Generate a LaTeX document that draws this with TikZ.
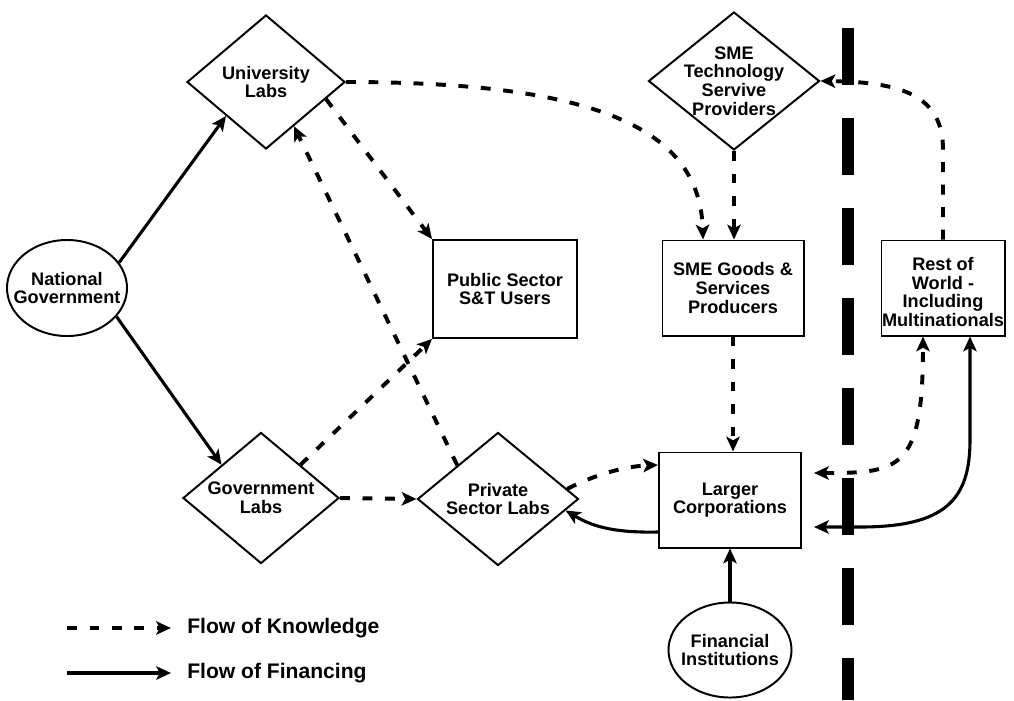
\documentclass[tikz,border=0pt]{standalone}
\usepackage{fontspec}
\setmainfont{Liberation Sans}
\usetikzlibrary{shapes.geometric,arrows.meta,calc}
\tikzset{
  base/.style={draw=black, line width=1.4pt, fill=white, inner sep=0pt},
  dia/.style={base, diamond},
  box/.style={base, rectangle},
  ell/.style={base, ellipse},
  lbl/.style={font=\fontsize{12.9}{13.2}\selectfont\bfseries, align=center, inner sep=0pt},
  leg/.style={font=\fontsize{15}{16}\selectfont\bfseries, inner sep=0pt, anchor=west},
  tip/.style={-{Stealth[length=10.5pt,width=9.5pt,inset=2.5pt]}},
  both/.style={{Stealth[length=10.5pt,width=9.5pt,inset=2.5pt]}-{Stealth[length=10.5pt,width=9.5pt,inset=2.5pt]}},
  know/.style={tip, line width=2.8pt, dash pattern=on 7pt off 9pt},
  fin/.style={tip, line width=2.2pt},
  sep/.style={line width=8.5pt, dash pattern=on 40.5pt off 23.5pt},
}
\begin{document}
\begin{tikzpicture}[x=0.025cm,y=-0.025cm]
\useasboundingbox (0,0) rectangle (1014,700);
% border separator
\coordinate (s0) at (848,28);
\coordinate (s1) at (848,700);
\draw[sep] (s0) -- (s1);

% nodes
\node[dia, minimum width=3.95cm, minimum height=3.35cm, label={[lbl]center:{University\\Labs}}] (ul) at (266,82) {};
\node[dia, minimum width=4.275cm, minimum height=3.45cm, label={[lbl]center:{SME\\Technology\\Servive\\Providers}}] (smet) at (734,81) {};
\node[box, minimum width=3.525cm, minimum height=2.375cm, label={[lbl]center:{SME Goods \&\\Services\\Producers}}] (smeg) at (733,288) {};
\node[box, minimum width=3.075cm, minimum height=2.375cm, label={[lbl, yshift=-0.1cm]center:{Rest of\\World -\\Including\\Multinationals}}] (row) at (943,288) {};
\node[box, minimum width=3.6cm, minimum height=2.45cm, label={[lbl]center:{Public Sector\\S\&T Users}}] (ps) at (505,289) {};
\node[ell, minimum width=3.0cm, minimum height=2.4cm, label={[lbl]center:{National\\Government}}] (ng) at (67,288) {};
\node[dia, minimum width=3.9cm, minimum height=3.275cm, label={[lbl]center:{Government\\Labs}}] (gl) at (261,498) {};
\node[dia, minimum width=4.025cm, minimum height=3.325cm, label={[lbl]center:{Private\\Sector Labs}}] (psl) at (498,499) {};
\node[box, minimum width=3.55cm, minimum height=2.375cm, label={[lbl]center:{Larger\\Corporations}}] (lc) at (730,500) {};
\node[ell, minimum width=3.075cm, minimum height=2.375cm, label={[lbl]center:{Financial\\Institutions}}] (fi) at (730,650) {};

% financing
\draw[fin] (ng.26) -- (ul.south west);
\draw[fin] (ng.-30) -- (gl.north west);
\draw[fin] (fi.north) -- (lc.south);
\draw[fin] ($(lc.west)+(0,32)$) .. controls (610,533) and (590,525) .. ($(psl.east)!0.17!(psl.south)$);
\draw[fin, both]
  ($(lc.east)+(12,27)$) -- (860,527) .. controls (945,527) and (970,500) .. (970,440) -- ($(row.south)+(27,0)$);

% knowledge
\draw[know] (ul.east) .. controls (600,82) and (700,130) .. ($(smeg.north)+(-30,0)$);
\draw[know] ($(ul.south east)!0.5!(ul.east)$) -- (ps.north west);
\draw[know] (psl.north west) -- ($(ul.south)!0.35!(ul.east)$);
\draw[know] (gl.north east) -- (ps.south west);
\draw[know] (gl.east) -- (psl.west);
\draw[know] ($(psl.north east)!0.7!(psl.east)$) .. controls (600,472) and (630,466) .. ($(lc.west)+(0,-35)$);
\draw[know] (smet.south) -- (smet.south |- smeg.north);
\draw[know] (smeg.south) -- (smeg.south |- lc.north);
\draw[know] (row.north) -- ++(0,-90) .. controls +(0,-55) and (900,82) .. (smet.east);
\draw[know, both]
  ($(lc.east)+(12,-27)$) .. controls (900,473) and (923,470) .. ($(row.south)+(-20,0)$);

% legend
\node[leg] (kt) at (187,628) {Flow of Knowledge};
\node[leg] (ft) at (187,673) {Flow of Financing};
\coordinate (k0) at (67,628);
\coordinate (f0) at (67,673);
\draw[know] (k0) -- ($(kt.west)+(-16,0)$);
\draw[fin] (f0) -- ($(ft.west)+(-16,0)$);
\end{tikzpicture}
\end{document}
